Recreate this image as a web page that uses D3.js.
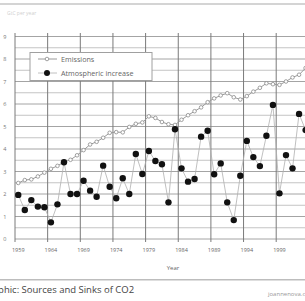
<!DOCTYPE html>
<html><head><meta charset="utf-8">
<script src="https://cdnjs.cloudflare.com/ajax/libs/d3/7.8.5/d3.min.js"></script>
<style>body{margin:0;background:#fff;overflow:hidden}svg{display:block}</style>
</head><body>
<script>
const years = d3.range(1959, 2004);
const emissions = [2.49,2.62,2.65,2.78,2.95,3.12,3.25,3.42,3.52,3.72,3.95,4.2,4.32,4.5,4.72,4.75,4.74,4.98,5.12,5.18,5.45,5.38,5.2,5.1,5.07,5.3,5.5,5.68,5.85,6.08,6.25,6.38,6.48,6.3,6.2,6.35,6.55,6.72,6.92,6.88,6.85,7.0,7.18,7.3,7.6];
const atmospheric = [1.96,1.29,1.73,1.44,1.41,0.74,1.54,3.41,2.0,2.0,2.59,2.15,1.88,3.26,2.32,1.81,2.7,2.0,3.78,2.89,3.91,3.47,3.32,1.63,4.88,3.14,2.55,2.67,4.55,4.81,2.88,3.36,1.63,0.84,2.81,4.36,3.64,3.24,4.59,5.96,2.03,3.73,3.14,5.56,4.84];
const yTicks = [0,1,2,3,4,5,6,7,8,9];
const labelYears = [1959,1964,1969,1974,1979,1984,1989,1994,1999,2004];
const seriesNames = ["Emissions","Atmospheric increase"];

const W=305,H=301;
const svg=d3.select("body").append("svg").attr("width",W).attr("height",H);
const font="'Open Sans', 'Liberation Sans', sans-serif";

const x=d3.scaleBand().domain(d3.range(1959,2011)).range([15,15+52*6.53]).paddingInner(0).paddingOuter(0);
const cx=d=>x(d)+x.bandwidth()/2;
const y=d3.scaleLinear().domain([0,9]).range([239,36.5]);
const plotTop=33,plotBottom=242;

// header band
svg.append("rect").attr("x",0).attr("y",3).attr("width",W).attr("height",2).attr("fill","#d4d4d4");
svg.append("text").attr("x",7).attr("y",15).attr("font-family",font).attr("font-size",5).attr("fill","#d0d0d0").text("GtC per year");

// minor horizontal grid
const minor=d3.range(0.5,9,1);
svg.append("g").selectAll("line").data(minor).join("line")
 .attr("x1",15).attr("x2",W).attr("y1",d=>y(d)).attr("y2",d=>y(d))
 .attr("stroke","#c4c4c4").attr("stroke-width",1);
// major horizontal grid
svg.append("g").selectAll("line").data(yTicks).join("line")
 .attr("x1",15).attr("x2",W).attr("y1",d=>y(d)).attr("y2",d=>y(d))
 .attr("stroke","#a4a4a4").attr("stroke-width",1);
// y labels (cut off at the left edge)
svg.append("g").selectAll("text").data(yTicks).join("text")
 .attr("x",6.5).attr("y",d=>y(d)+2).attr("text-anchor","end")
 .attr("font-family",font).attr("font-size",5.5).attr("fill","#777").text(d=>d);
// vertical grid
svg.append("g").selectAll("line").data(labelYears).join("line")
 .attr("x1",d=>x(d)).attr("x2",d=>x(d)).attr("y1",plotTop).attr("y2",plotBottom)
 .attr("stroke","#7a7a7a").attr("stroke-width",1);
// x labels
svg.append("g").selectAll("text").data(labelYears).join("text")
 .attr("x",d=>cx(d)).attr("y",252).attr("text-anchor","middle")
 .attr("font-family",font).attr("font-size",5.5).attr("fill","#666").text(d=>d);
svg.append("text").attr("x",173).attr("y",270).attr("text-anchor","middle")
 .attr("font-family",font).attr("font-size",6).attr("fill","#666").text("Year");

// emissions
const eData=years.map((yr,i)=>({yr,v:emissions[i]}));
svg.append("path").datum(eData).attr("fill","none").attr("stroke","#9a9a9a").attr("stroke-width",1)
 .attr("d",d3.line().x(d=>cx(d.yr)).y(d=>y(d.v)));
svg.append("g").selectAll("circle").data(eData).join("circle")
 .attr("cx",d=>cx(d.yr)).attr("cy",d=>y(d.v)).attr("r",1.8)
 .attr("fill","#fff").attr("stroke","#8a8a8a").attr("stroke-width",0.8);

// atmospheric
const aData=years.map((yr,i)=>({yr,v:atmospheric[i]}));
svg.append("path").datum(aData).attr("fill","none").attr("stroke","#b0b0b0").attr("stroke-width",0.8)
 .attr("d",d3.line().x(d=>cx(d.yr)).y(d=>y(d.v)));
svg.append("g").selectAll("circle").data(aData).join("circle")
 .attr("cx",d=>cx(d.yr)).attr("cy",d=>y(d.v)).attr("r",3.2).attr("fill","#111");

// legend
const lg=svg.append("g");
lg.append("rect").attr("x",30).attr("y",52.5).attr("width",122).attr("height",28)
 .attr("fill","#fff").attr("stroke","#a0a0a0").attr("stroke-width",1);
lg.append("line").attr("x1",38).attr("x2",57).attr("y1",59).attr("y2",59).attr("stroke","#9a9a9a");
lg.append("circle").attr("cx",47).attr("cy",59).attr("r",1.8).attr("fill","#fff").attr("stroke","#8a8a8a").attr("stroke-width",0.8);
lg.append("line").attr("x1",38).attr("x2",57).attr("y1",73).attr("y2",73).attr("stroke","#b0b0b0").attr("stroke-width",0.8);
lg.append("circle").attr("cx",47).attr("cy",73).attr("r",3).attr("fill","#111");
lg.selectAll("text").data(seriesNames).join("text")
 .attr("x",61).attr("y",(d,i)=>61.5+i*14).attr("font-family",font).attr("font-size",7.2).attr("fill","#666").text(d=>d);

// footer
svg.append("rect").attr("x",0).attr("y",279).attr("width",W).attr("height",1.5).attr("fill","#bdbdbd");
svg.append("text").attr("x",-18).attr("y",293).attr("font-family",font).attr("font-size",9.5).attr("fill","#444").text("Graphic: Sources and Sinks of CO2");
svg.append("text").attr("x",268).attr("y",296).attr("font-family",font).attr("font-size",6).attr("fill","#999").text("joannenova.com.au");
</script>
</body></html>
